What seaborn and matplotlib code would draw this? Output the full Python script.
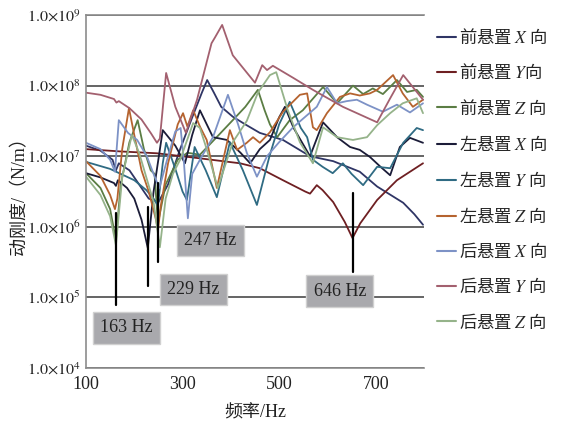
import numpy as np
import pandas as pd
import matplotlib
matplotlib.use('Agg')
import matplotlib.pyplot as plt
import seaborn as sns
from matplotlib.lines import Line2D
from matplotlib.ticker import FixedLocator, FuncFormatter, NullLocator

# series labels and colours (legend order)
series_names = ['前悬置 $X$ 向', '前悬置 $Y$向', '前悬置 $Z$ 向',
                '左悬置 $X$ 向', '左悬置 $Y$ 向', '左悬置 $Z$ 向',
                '后悬置 $X$ 向', '后悬置 $Y$ 向', '后悬置 $Z$ 向']
series_colors = ['#2f3565', '#6e1f22', '#5b7d44',
                 '#1b1c38', '#2f6b83', '#b5632f',
                 '#7d92c6', '#a3606f', '#95b38a']

# dynamic stiffness (N/m), per mount and direction
front_x_freq = [100, 130, 155, 162, 168, 190, 210, 230, 250, 270, 295, 320, 340, 351, 365, 380, 404,
                430, 460, 508, 564, 612, 667, 703, 757, 780, 798]
front_x_k = [1.41e7, 1.20e7, 8.91e6, 6.31e6, 7.94e6, 6.31e6, 3.98e6, 2.51e6, 2.24e6, 3.98e6, 1.26e7,
             3.55e7, 7.94e7, 1.20e8, 7.94e7, 5.01e7, 3.63e7, 2.82e7, 2.14e7, 1.70e7, 1.00e7, 8.51e6,
             6.03e6, 3.72e6, 2.19e6, 1.51e6, 1.07e6]

front_y_freq = [100, 170, 247, 336, 419, 460, 508, 554, 564, 578, 590, 612, 636, 652, 668, 703, 744, 798]
front_y_k = [1.26e7, 1.17e7, 1.10e7, 9.33e6, 7.94e6, 6.76e6, 4.57e6, 3.16e6, 2.95e6, 3.89e6, 3.31e6,
             2.24e6, 1.17e6, 6.92e5, 1.12e6, 2.40e6, 4.57e6, 7.94e6]

front_z_freq = [100, 130, 150, 162, 172, 190, 207, 220, 234, 242, 249, 265, 290, 310, 336, 375, 404,
                430, 456, 470, 481, 496, 522, 549, 591, 620, 653, 674, 694, 715, 744, 765, 785, 798]
front_z_k = [5.75e6, 3.55e6, 1.78e6, 6.46e5, 3.98e6, 1.58e7, 3.24e7, 1.26e7, 6.31e6, 5.62e6, 1.12e6,
             3.98e6, 8.91e6, 1.12e7, 1.05e7, 2.00e7, 3.24e7, 5.01e7, 8.71e7, 4.47e7, 2.82e7, 1.86e7,
             3.24e7, 4.47e7, 9.55e7, 5.62e7, 1.00e8, 7.59e7, 9.12e7, 7.59e7, 1.20e8, 8.13e7, 8.71e7,
             6.92e7]

left_x_freq = [100, 130, 158, 162, 166, 185, 200, 215, 228, 240, 259, 285, 305, 320, 336, 363, 392,
               420, 440, 460, 481, 500, 512, 530, 564, 591, 620, 647, 667, 688, 710, 730, 750, 771, 798]
left_x_k = [5.75e6, 5.01e6, 4.17e6, 3.80e6, 4.57e6, 3.55e6, 2.51e6, 1.26e6, 5.01e5, 3.16e6, 2.34e7,
            1.41e7, 7.94e6, 2.00e7, 4.47e7, 1.86e7, 1.70e7, 1.12e7, 7.94e6, 1.26e7, 1.70e7, 3.55e7,
            5.01e7, 2.51e7, 1.00e7, 3.02e7, 1.86e7, 1.35e7, 1.23e7, 9.77e6, 7.08e6, 5.37e6, 1.35e7,
            1.82e7, 1.55e7]

left_y_freq = [100, 150, 200, 225, 240, 249, 259, 266, 286, 300, 309, 325, 348, 371, 398, 425, 454,
               480, 500, 522, 545, 558, 570, 590, 611, 632, 650, 674, 703, 730, 757, 785, 798]
left_y_k = [8.32e6, 6.61e6, 4.57e6, 3.31e6, 2.51e6, 2.00e6, 7.94e6, 1.55e7, 6.31e6, 3.16e6, 2.40e6,
            1.35e7, 6.31e6, 2.63e6, 1.58e7, 6.31e6, 2.04e6, 1.00e7, 2.82e7, 5.89e7, 2.51e7, 1.86e7,
            8.91e6, 7.08e6, 5.75e6, 7.94e6, 5.62e6, 3.89e6, 7.08e6, 6.76e6, 1.55e7, 2.51e7, 2.34e7]

left_z_freq = [100, 130, 150, 160, 165, 175, 189, 200, 215, 230, 245, 249, 255, 270, 290, 301, 310,
               322, 336, 350, 371, 398, 413, 433, 446, 460, 481, 508, 543, 558, 570, 578, 599, 626,
               647, 667, 688, 703, 736, 756, 777, 798]
left_z_k = [8.51e6, 5.25e6, 2.82e6, 1.78e6, 2.51e6, 1.26e7, 4.79e7, 2.00e7, 6.31e6, 3.16e6, 1.26e6,
            8.91e5, 2.00e6, 7.94e6, 2.82e7, 4.07e7, 2.63e7, 4.47e7, 2.63e7, 1.70e7, 3.55e6, 2.34e7,
            1.23e7, 1.55e7, 1.86e7, 1.55e7, 2.19e7, 4.27e7, 7.41e7, 7.76e7, 2.57e7, 2.34e7, 4.07e7,
            6.92e7, 7.76e7, 7.24e7, 7.76e7, 8.71e7, 1.41e8, 7.76e7, 5.01e7, 6.31e7]

rear_x_freq = [100, 130, 150, 160, 168, 187, 206, 226, 240, 252, 268, 285, 296, 303, 311, 320, 336,
               363, 394, 415, 433, 454, 475, 500, 529, 578, 599, 620, 640, 661, 682, 715, 744, 771, 798]
rear_x_k = [1.55e7, 1.26e7, 8.91e6, 6.03e6, 3.24e7, 2.14e7, 1.70e7, 1.00e7, 5.62e6, 3.55e6, 8.91e6,
            2.24e7, 2.51e7, 7.94e6, 1.32e6, 5.62e6, 8.91e6, 1.86e7, 7.41e7, 2.82e7, 1.12e7, 5.13e6,
            1.00e7, 1.58e7, 2.57e7, 5.01e7, 9.55e7, 5.62e7, 6.03e7, 6.31e7, 5.37e7, 4.27e7, 5.37e7,
            4.17e7, 5.62e7]

rear_y_freq = [100, 130, 158, 163, 168, 190, 215, 235, 247, 253, 266, 285, 307, 330, 360, 367, 382,
               404, 450, 465, 475, 487, 529, 570, 632, 703, 730, 757, 798]
rear_y_k = [7.94e7, 7.41e7, 6.46e7, 5.75e7, 6.03e7, 4.79e7, 3.31e7, 2.09e7, 1.55e7, 1.78e7, 1.51e8,
            5.01e7, 2.14e7, 6.31e7, 3.98e8, 4.79e8, 7.24e8, 2.69e8, 1.10e8, 1.95e8, 1.66e8, 1.91e8,
            1.29e8, 8.71e7, 5.01e7, 3.02e7, 6.61e7, 1.41e8, 6.31e7]

rear_z_freq = [100, 130, 150, 162, 175, 195, 210, 225, 240, 253, 265, 280, 295, 322, 336, 350, 373,
               404, 433, 456, 481, 494, 518, 543, 570, 591, 620, 653, 682, 703, 730, 756, 785, 798]
rear_z_k = [5.13e6, 2.82e6, 1.41e6, 5.50e5, 5.01e6, 2.00e7, 1.12e7, 5.01e6, 2.24e6, 5.13e5, 2.51e6,
            5.62e6, 8.91e6, 2.95e7, 2.51e7, 1.26e7, 3.55e6, 1.58e7, 3.16e7, 7.94e7, 1.41e8, 1.55e8,
            4.47e7, 1.58e7, 7.94e6, 2.57e7, 1.86e7, 1.70e7, 1.86e7, 2.75e7, 4.07e7, 5.62e7, 6.61e7,
            4.07e7]

# marked resonance frequencies (text) and where their pointer lines sit
mark_labels = ['163 Hz', '229 Hz', '247 Hz', '646 Hz']
mark_line_x = [162, 229, 249, 653]
mark_line_top = [1.57e6, 1.90e6, 4.17e6, 3.00e6]
mark_line_bottom = [7.76e4, 1.45e5, 3.16e5, 2.29e5]
mark_box_x = [184, 323, 358, 626]
mark_box_y = [3.69e4, 1.29e5, 6.40e5, 1.23e5]

y_ticks = [1e4, 1e5, 1e6, 1e7, 1e8, 1e9]
x_ticks = [100, 300, 500, 700]


def build_frame():
    freqs = [front_x_freq, front_y_freq, front_z_freq, left_x_freq, left_y_freq, left_z_freq,
             rear_x_freq, rear_y_freq, rear_z_freq]
    ks = [front_x_k, front_y_k, front_z_k, left_x_k, left_y_k, left_z_k,
          rear_x_k, rear_y_k, rear_z_k]
    parts = []
    for name, f, k in zip(series_names, freqs, ks):
        parts.append(pd.DataFrame({'freq': f, 'k': k, 'series': name}))
    return pd.concat(parts, ignore_index=True)


def main():
    sns.set_theme(style='white')
    plt.rcParams['font.family'] = ['Liberation Serif', 'Noto Sans CJK SC']
    plt.rcParams['mathtext.fontset'] = 'stix'
    plt.rcParams['axes.unicode_minus'] = False

    df = build_frame()

    fig = plt.figure(figsize=(5.62, 4.23), dpi=100)
    ax = fig.add_axes([0.153, 0.130, 0.6014, 0.8345])

    # horizontal reference lines at each decade
    ax.set_axisbelow(True)
    ax.yaxis.grid(True, color='#3a3a3a', lw=1.1)
    ax.xaxis.grid(False)

    sns.lineplot(data=df, x='freq', y='k', hue='series', hue_order=series_names,
                 palette=series_colors, estimator=None, lw=1.3, legend=False, ax=ax)

    ax.set_yscale('log')
    ax.set_ylim(1e4, 1e9)
    ax.set_xlim(100, 800)
    ax.yaxis.set_major_locator(FixedLocator(y_ticks))
    ax.yaxis.set_minor_locator(NullLocator())
    ax.yaxis.set_major_formatter(FuncFormatter(
        lambda v, p: r'$1.0{\times}10^{%d}$' % int(round(np.log10(v)))))
    ax.set_xticks(x_ticks)

    for side in ['left', 'bottom', 'top']:
        ax.spines[side].set_color('#8c8c8c')
        ax.spines[side].set_linewidth(1.2)
    ax.spines['right'].set_visible(False)

    ax.tick_params(axis='y', direction='out', length=3, width=1, color='#8c8c8c',
                   pad=1, labelsize=11.5, labelcolor='#222222')
    ax.tick_params(axis='x', direction='in', length=4, width=1, color='#8c8c8c',
                   pad=6, labelsize=13, labelcolor='#222222')

    ax.set_xlabel('频率/Hz', fontsize=13, color='#222222', labelpad=8)
    ax.set_ylabel('动刚度/（N/m）', fontsize=13, color='#222222')
    ax.yaxis.set_label_coords(-0.17, 0.5)

    # resonance markers
    for lx, lt, lb in zip(mark_line_x, mark_line_top, mark_line_bottom):
        ax.plot([lx, lx], [lb, lt], color='black', lw=1.6, zorder=5)
    for txt, bx, by in zip(mark_labels, mark_box_x, mark_box_y):
        ax.text(bx, by, txt, ha='center', va='center', fontsize=13, color='#222222', zorder=6,
                bbox=dict(boxstyle='square,pad=0.4', facecolor='#a9a9ad', edgecolor='#d0d0d0', lw=1))

    handles = [Line2D([0], [0], color=c, lw=1.5) for c in series_colors]
    fig.legend(handles, series_names, loc='upper left', bbox_to_anchor=(0.765, 0.950),
               frameon=False, prop={'family': 'Noto Sans CJK SC', 'size': 12.5},
               handlelength=1.1, handletextpad=0.15, labelspacing=0.93, borderaxespad=0)

    fig.savefig('out.png', dpi=100)
    plt.close(fig)


if __name__ == "__main__":
    main()
